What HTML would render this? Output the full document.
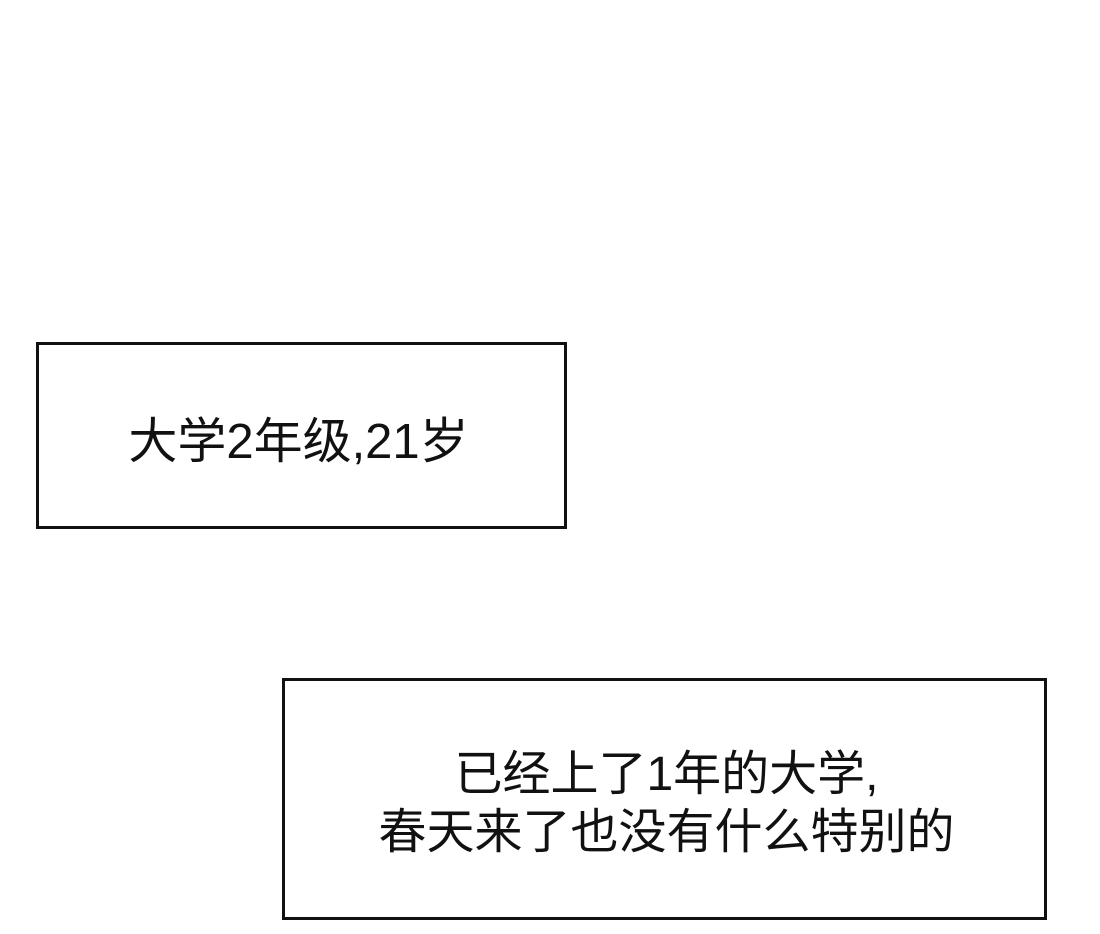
<!DOCTYPE html>
<html><head><meta charset="utf-8"><style>
html,body{margin:0;padding:0;background:#fff;}
body{width:1100px;height:934px;position:relative;overflow:hidden;font-family:"Liberation Sans","Noto Sans CJK SC",sans-serif;color:#111;}
.box{position:absolute;border:3px solid #111;box-sizing:border-box;display:flex;align-items:center;justify-content:center;text-align:center;font-size:49px;}
</style></head><body>
<div class="box" style="left:36px;top:342px;width:531px;height:187px;"><div style="margin-top:4px;margin-right:6px">大学2年级,21岁</div></div>
<div class="box" style="left:282px;top:678px;width:765px;height:242px;font-size:48px;line-height:58px;"><div style="margin-top:10px;margin-left:4px">已经上了1年的大学,<br>春天来了也没有什么特别的</div></div>
</body></html>
